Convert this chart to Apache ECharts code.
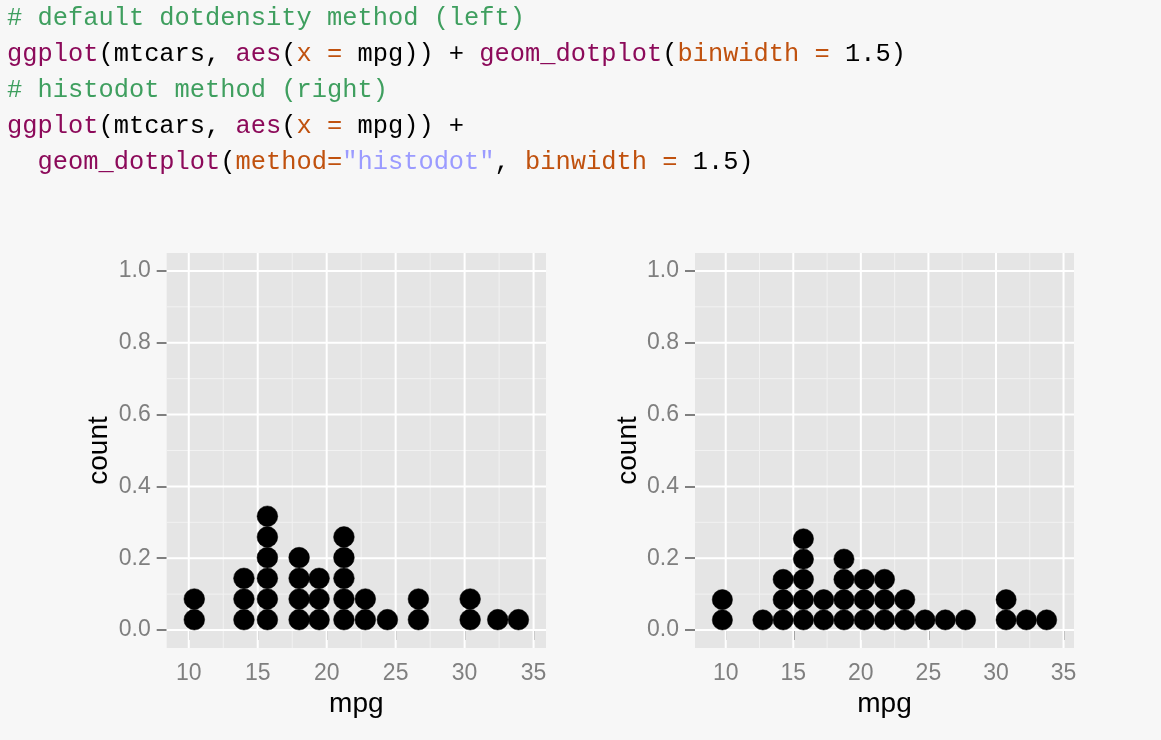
<!DOCTYPE html>
<html><head><meta charset="utf-8">
<script src="https://cdn.jsdelivr.net/npm/echarts@6/dist/echarts.min.js"></script>
<style>html,body{margin:0;padding:0;background:#f7f7f7;}#c{width:1161px;height:740px;}</style>
</head><body><div id="c"></div>
<script>
// ---- data ----
const binwidth = 1.5;
const dotdensityX = [10.4, 14.0, 15.7, 18.0, 19.45, 21.25, 22.8, 24.4, 26.65, 30.4, 32.4, 33.9];
const dotdensityCount = [2, 3, 6, 4, 3, 5, 2, 1, 2, 2, 1, 1];
const histodotX = [9.75, 12.75, 14.25, 15.75, 17.25, 18.75, 20.25, 21.75, 23.25, 24.75, 26.25, 27.75, 30.75, 32.25, 33.75];
const histodotCount = [2, 1, 3, 5, 2, 4, 3, 3, 2, 1, 1, 1, 2, 1, 1];
const xTicks = [10, 15, 20, 25, 30, 35];
const xMinor = [12.5, 17.5, 22.5, 27.5, 32.5];
const yTicks = [0, 0.2, 0.4, 0.6, 0.8, 1.0];
const yMinor = [0.1, 0.3, 0.5, 0.7, 0.9];
const xRangeLeft = [8.4, 35.9];
const xRangeRight = [7.725, 35.775];
const yRange = [-0.05, 1.05];
const xTitle = 'mpg';
const yTitle = 'count';
const codeLines = [
  [['c', '# default dotdensity method (left)']],
  [['f', 'ggplot'], ['n', '(mtcars, '], ['f', 'aes'], ['n', '('], ['a', 'x ='], ['n', ' mpg)) + '], ['f', 'geom_dotplot'], ['n', '('], ['a', 'binwidth ='], ['n', ' 1.5)']],
  [['c', '# histodot method (right)']],
  [['f', 'ggplot'], ['n', '(mtcars, '], ['f', 'aes'], ['n', '('], ['a', 'x ='], ['n', ' mpg)) +']],
  [['n', '  '], ['f', 'geom_dotplot'], ['n', '('], ['a', 'method='], ['s', '"histodot"'], ['n', ', '], ['a', 'binwidth ='], ['n', ' 1.5)']]
];

// ---- styles ----
const SANS = 'Liberation Sans, Arial, sans-serif';
const MONO = 'Liberation Mono, monospace';
const codeSize = 25.4;
const tickSize = 23;
const mk = (c) => ({ fill: c, fontFamily: MONO, fontSize: codeSize });
const rich = { c: mk('#3f9f5f'), f: mk('#8c0a5a'), a: mk('#c0510e'), s: mk('#9b9bff'), n: mk('#000000') };

const chart = echarts.init(document.getElementById('c'), null, { renderer: 'canvas' });

function xAxisCfg(gi, range) {
  return {
    type: 'value', gridIndex: gi, min: range[0], max: range[1],
    axisLine: { show: false }, splitLine: { show: false },
    axisTick: { show: true, length: 10, customValues: xTicks, lineStyle: { color: '#7f7f7f', width: 2 } },
    axisLabel: { customValues: xTicks, color: '#7f7f7f', fontSize: tickSize, fontFamily: SANS, margin: 14,
      formatter: v => String(v) },
    name: xTitle, nameLocation: 'middle', nameGap: 40,
    nameTextStyle: { color: '#000', fontSize: 28, fontFamily: SANS }
  };
}
function yAxisCfg(gi) {
  return {
    type: 'value', gridIndex: gi, min: yRange[0], max: yRange[1],
    axisLine: { show: false }, splitLine: { show: false },
    axisTick: { show: true, length: 10, customValues: yTicks, lineStyle: { color: '#7f7f7f', width: 2 } },
    axisLabel: { customValues: yTicks, color: '#7f7f7f', fontSize: tickSize, fontFamily: SANS, margin: 16,
      formatter: v => v.toFixed(1) },
    name: yTitle, nameLocation: 'middle', nameGap: 53, nameRotate: 90,
    nameTextStyle: { color: '#000', fontSize: 28, fontFamily: SANS }
  };
}

function lineSeries(gi, values, vertical, major) {
  const style = { stroke: major ? '#ffffff' : '#f2f2f2', lineWidth: major ? 2 : 1 };
  return {
    type: 'custom', xAxisIndex: gi, yAxisIndex: gi, silent: true, z: major ? 2 : 1, clip: true,
    animation: false,
    data: values.map(v => [v, v]),
    renderItem: function (params, api) {
      const cs = params.coordSys;
      if (vertical) {
        const x = api.coord([api.value(0), 0])[0];
        return { type: 'line', shape: { x1: x, y1: cs.y, x2: x, y2: cs.y + cs.height }, style };
      } else {
        const y = api.coord([0, api.value(1)])[1];
        return { type: 'line', shape: { x1: cs.x, y1: y, x2: cs.x + cs.width, y2: y }, style };
      }
    }
  };
}

function dotSeries(gi, xs, counts) {
  return {
    type: 'custom', xAxisIndex: gi, yAxisIndex: gi, z: 5, animation: false, clip: false,
    data: xs.map((x, i) => [x, counts[i]]),
    renderItem: function (params, api) {
      const base = api.coord([api.value(0), 0]);
      const d = api.size([binwidth, 0])[0];
      const n = api.value(1);
      const children = [];
      for (let i = 0; i < n; i++) {
        children.push({ type: 'circle', shape: { cx: base[0], cy: base[1] - d * (i + 0.5), r: d / 2 },
          style: { fill: '#000', stroke: '#000', lineWidth: 0.5 } });
      }
      return { type: 'group', children };
    }
  };
}

const series = [];
[0, 1].forEach(gi => {
  series.push(lineSeries(gi, xMinor, true, false));
  series.push(lineSeries(gi, yMinor, false, false));
  series.push(lineSeries(gi, xTicks, true, true));
  series.push(lineSeries(gi, yTicks, false, true));
});
series.push(dotSeries(0, dotdensityX, dotdensityCount));
series.push(dotSeries(1, histodotX, histodotCount));

chart.setOption({
  backgroundColor: '#f7f7f7',
  animation: false,
  grid: [
    { left: 166.7, top: 253, width: 379.3, height: 395, show: true, backgroundColor: '#e5e5e5', borderWidth: 0 },
    { left: 695, top: 253, width: 379, height: 395, show: true, backgroundColor: '#e5e5e5', borderWidth: 0 }
  ],
  xAxis: [xAxisCfg(0, xRangeLeft), xAxisCfg(1, xRangeRight)],
  yAxis: [yAxisCfg(0), yAxisCfg(1)],
  series,
  graphic: codeLines.map((segs, i) => ({
    type: 'text', x: 7, y: 18 + 36 * i, silent: true,
    style: {
      text: segs.map(([k, t]) => '{' + k + '|' + t + '}').join(''),
      rich, fontFamily: MONO, fontSize: codeSize, fill: '#000',
      verticalAlign: 'middle', align: 'left'
    }
  }))
});
</script>
</body></html>
